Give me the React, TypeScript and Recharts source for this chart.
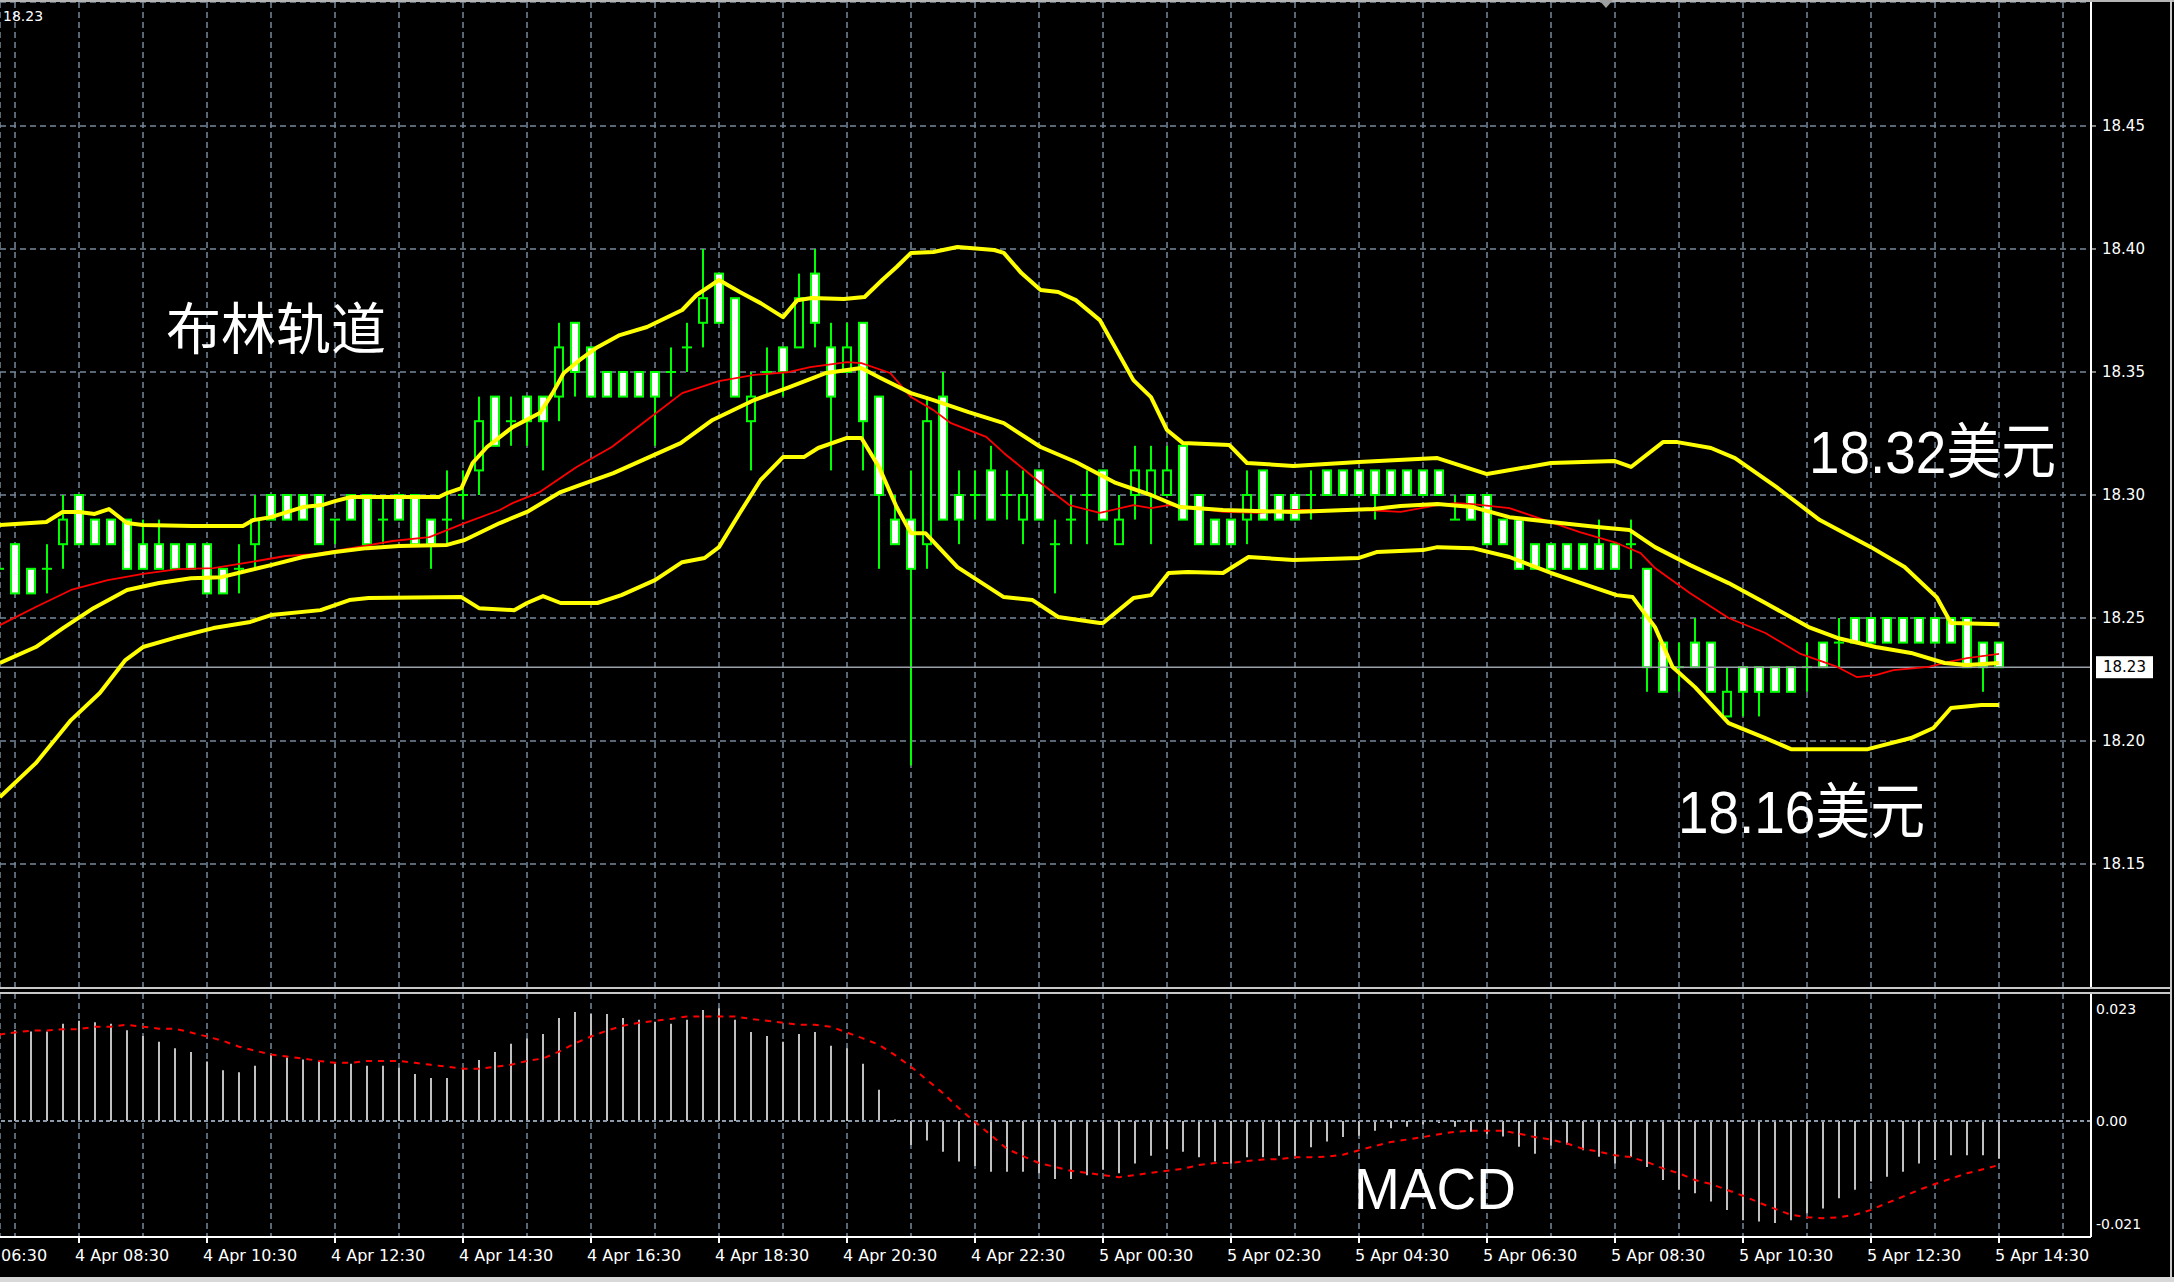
import React from 'react';
import { ComposedChart, Bar, Line, XAxis, YAxis, CartesianGrid, ReferenceLine } from 'recharts';

const GRID = '#778899';
const FONT = '"DejaVu Sans", sans-serif';
const BIG = '"Liberation Sans", "Noto Sans CJK SC", sans-serif';

// M15 candles, 4 Apr 07:15 .. 5 Apr 14:30 (index 0..125)
const opens = [
  18.27, 18.28, 18.27, 18.27, 18.28, 18.30, 18.29, 18.29, 18.29, 18.28,
  18.28, 18.28, 18.28, 18.28, 18.27, 18.27, 18.28, 18.30, 18.30, 18.30,
  18.30, 18.29, 18.30, 18.30, 18.29, 18.30, 18.30, 18.29, 18.29, 18.30,
  18.31, 18.34, 18.33, 18.34, 18.34, 18.34, 18.37, 18.36, 18.35, 18.35,
  18.35, 18.35, 18.35, 18.36, 18.37, 18.39, 18.38, 18.33, 18.35, 18.36,
  18.36, 18.39, 18.36, 18.35, 18.37, 18.34, 18.29, 18.29, 18.28, 18.34,
  18.30, 18.30, 18.31, 18.30, 18.29, 18.31, 18.28, 18.29, 18.30, 18.31,
  18.28, 18.30, 18.30, 18.30, 18.32, 18.30, 18.29, 18.29, 18.29, 18.31,
  18.30, 18.30, 18.30, 18.31, 18.31, 18.31, 18.31, 18.31, 18.31, 18.31,
  18.31, 18.29, 18.30, 18.30, 18.29, 18.29, 18.28, 18.28, 18.28, 18.28,
  18.28, 18.28, 18.28, 18.27, 18.24, 18.23, 18.24, 18.24, 18.21, 18.23,
  18.23, 18.23, 18.23, 18.23, 18.24, 18.24, 18.25, 18.25, 18.25, 18.25,
  18.25, 18.25, 18.25, 18.25, 18.24, 18.24,
];
const highs = [
  18.28, 18.28, 18.27, 18.28, 18.30, 18.30, 18.29, 18.29, 18.29, 18.29,
  18.29, 18.28, 18.28, 18.28, 18.27, 18.28, 18.30, 18.30, 18.30, 18.30,
  18.30, 18.29, 18.30, 18.30, 18.30, 18.30, 18.30, 18.29, 18.31, 18.31,
  18.34, 18.34, 18.34, 18.34, 18.34, 18.37, 18.37, 18.36, 18.35, 18.35,
  18.35, 18.35, 18.36, 18.37, 18.40, 18.39, 18.38, 18.35, 18.36, 18.36,
  18.39, 18.40, 18.37, 18.37, 18.37, 18.34, 18.30, 18.31, 18.34, 18.35,
  18.31, 18.31, 18.32, 18.31, 18.31, 18.31, 18.29, 18.30, 18.31, 18.31,
  18.30, 18.32, 18.32, 18.32, 18.32, 18.30, 18.29, 18.29, 18.31, 18.31,
  18.30, 18.30, 18.31, 18.31, 18.31, 18.31, 18.31, 18.31, 18.31, 18.31,
  18.31, 18.30, 18.30, 18.30, 18.29, 18.29, 18.28, 18.28, 18.28, 18.28,
  18.29, 18.28, 18.29, 18.27, 18.24, 18.24, 18.25, 18.24, 18.23, 18.23,
  18.23, 18.23, 18.23, 18.24, 18.24, 18.25, 18.25, 18.25, 18.25, 18.25,
  18.25, 18.25, 18.25, 18.25, 18.24, 18.24,
];
const lows = [
  18.26, 18.26, 18.26, 18.26, 18.27, 18.28, 18.28, 18.28, 18.27, 18.27,
  18.27, 18.27, 18.27, 18.26, 18.26, 18.26, 18.27, 18.29, 18.29, 18.29,
  18.28, 18.28, 18.29, 18.28, 18.28, 18.29, 18.28, 18.27, 18.28, 18.29,
  18.30, 18.32, 18.32, 18.32, 18.31, 18.33, 18.34, 18.34, 18.34, 18.34,
  18.34, 18.32, 18.34, 18.35, 18.36, 18.37, 18.34, 18.31, 18.34, 18.34,
  18.36, 18.36, 18.31, 18.35, 18.31, 18.27, 18.28, 18.19, 18.27, 18.29,
  18.28, 18.29, 18.29, 18.29, 18.28, 18.29, 18.26, 18.28, 18.28, 18.29,
  18.28, 18.29, 18.28, 18.30, 18.29, 18.28, 18.28, 18.28, 18.28, 18.29,
  18.29, 18.29, 18.29, 18.30, 18.30, 18.30, 18.29, 18.30, 18.30, 18.30,
  18.30, 18.29, 18.29, 18.28, 18.28, 18.27, 18.27, 18.27, 18.27, 18.27,
  18.27, 18.27, 18.27, 18.22, 18.22, 18.22, 18.23, 18.22, 18.21, 18.21,
  18.21, 18.22, 18.22, 18.22, 18.23, 18.23, 18.24, 18.24, 18.24, 18.24,
  18.24, 18.24, 18.24, 18.23, 18.22, 18.23,
];
const closes = [
  18.27, 18.26, 18.26, 18.27, 18.29, 18.28, 18.28, 18.28, 18.27, 18.27,
  18.27, 18.27, 18.27, 18.26, 18.26, 18.27, 18.29, 18.29, 18.29, 18.29,
  18.28, 18.29, 18.29, 18.28, 18.29, 18.29, 18.28, 18.28, 18.29, 18.30,
  18.33, 18.32, 18.33, 18.33, 18.33, 18.36, 18.35, 18.34, 18.34, 18.34,
  18.34, 18.34, 18.35, 18.36, 18.38, 18.37, 18.34, 18.34, 18.35, 18.35,
  18.38, 18.37, 18.34, 18.36, 18.33, 18.30, 18.28, 18.27, 18.33, 18.29,
  18.29, 18.30, 18.29, 18.30, 18.30, 18.29, 18.28, 18.29, 18.30, 18.29,
  18.29, 18.31, 18.31, 18.31, 18.29, 18.28, 18.28, 18.28, 18.30, 18.29,
  18.29, 18.29, 18.30, 18.30, 18.30, 18.30, 18.30, 18.30, 18.30, 18.30,
  18.30, 18.29, 18.29, 18.28, 18.28, 18.27, 18.27, 18.27, 18.27, 18.27,
  18.27, 18.27, 18.28, 18.23, 18.22, 18.23, 18.23, 18.22, 18.22, 18.22,
  18.22, 18.22, 18.22, 18.23, 18.23, 18.24, 18.24, 18.24, 18.24, 18.24,
  18.24, 18.24, 18.24, 18.23, 18.23, 18.23,
];

// Bollinger upper / middle / lower and the red moving average, read as [candle, price]
const bbUpper = [
  [0.06, 18.2878], [2.96, 18.289], [3.97, 18.2931], [4.99, 18.2931], [5.98, 18.2923], [6.87, 18.2943],
  [7.99, 18.2886], [8.99, 18.2878], [12.1, 18.2874], [15.24, 18.2874], [15.9, 18.2898], [17, 18.291],
  [19, 18.2951], [20.2, 18.2959], [21, 18.2975], [22, 18.2992], [27.5, 18.2992], [28, 18.3008],
  [28.9, 18.3028], [29.6, 18.313], [30.5, 18.3195], [32.1, 18.3276], [33.8, 18.3333], [34.6, 18.3414],
  [35.3, 18.3496], [36.3, 18.3549], [37.4, 18.3601], [38.8, 18.365], [40.5, 18.3683], [42.7, 18.3752],
  [43.6, 18.3813], [45, 18.3874], [46.3, 18.3825], [47.6, 18.378], [49, 18.3723], [49.9, 18.3792],
  [50.8, 18.3801], [52.8, 18.3797], [54.1, 18.3805], [55.2, 18.3874], [56.1, 18.3927], [57, 18.3984],
  [58.4, 18.3988], [59.9, 18.4008], [62.2, 18.3996], [62.8, 18.3984], [63.9, 18.3902], [65.1, 18.3833],
  [66.2, 18.3825], [67.3, 18.3792], [68.8, 18.3711], [70.9, 18.3467], [72, 18.3398], [73, 18.3264],
  [74, 18.3211], [76.9, 18.3203], [78, 18.313], [80.9, 18.3118], [85, 18.3134], [89.9, 18.315],
  [93, 18.3085], [97, 18.313], [101, 18.3138], [102, 18.3114], [104, 18.3215], [104.9, 18.3215],
  [107, 18.3191], [108.5, 18.315], [111.1, 18.3032], [113.8, 18.2898], [117, 18.2788], [119.1, 18.2707],
  [121.1, 18.2585], [122, 18.248], [125, 18.2475],
];
const bbMiddle = [
  [0.06, 18.2317], [2.3, 18.2382], [4, 18.2459], [5.9, 18.254], [8, 18.2614], [10, 18.2642],
  [12, 18.2662], [13.9, 18.2666], [15.2, 18.2687], [17, 18.2715], [19, 18.2748], [21, 18.2768],
  [23, 18.2784], [25, 18.2793], [28, 18.2797], [29.1, 18.2817], [31.3, 18.2886], [33, 18.2931],
  [35.1, 18.3012], [36.3, 18.304], [38.4, 18.3089], [40.5, 18.315], [42.6, 18.3211], [44.6, 18.3305],
  [47.2, 18.3386], [49.4, 18.3439], [51.7, 18.3496], [53, 18.3508], [53.9, 18.3516], [55, 18.3479],
  [57, 18.3414], [58.4, 18.3386], [60.6, 18.3337], [62.8, 18.3292], [65.1, 18.3195], [67.3, 18.3134],
  [69.8, 18.3049], [72, 18.3], [73.8, 18.2951], [76.5, 18.2939], [80.9, 18.2931], [85.9, 18.2943],
  [87.6, 18.2955], [89.9, 18.2963], [92.1, 18.2951], [94.4, 18.291], [97, 18.289], [99.9, 18.287],
  [101.9, 18.2858], [103.5, 18.2788], [105.7, 18.2715], [108.1, 18.2642], [110.4, 18.2561], [113.1, 18.2463],
  [114.9, 18.2419], [117.3, 18.2382], [119.5, 18.2358], [121.6, 18.2317], [123, 18.2309], [125, 18.2317],
];
const bbLower = [
  [0.06, 18.1772], [2.3, 18.191], [4.5, 18.2085], [6.3, 18.2195], [7.9, 18.2329], [9, 18.2382],
  [11.2, 18.2423], [13.4, 18.2459], [15.7, 18.2484], [17, 18.2512], [20.1, 18.2532], [21.9, 18.2573],
  [23.1, 18.2581], [28.9, 18.2585], [30, 18.254], [32.2, 18.2532], [33, 18.2561], [34, 18.2589],
  [35.1, 18.2561], [37.4, 18.2561], [38.9, 18.2593], [41, 18.2654], [42.7, 18.2727], [44.1, 18.2744],
  [45, 18.2788], [46.3, 18.2927], [47.6, 18.3061], [49, 18.3154], [50.3, 18.3154], [51.2, 18.3191],
  [53, 18.3232], [53.9, 18.3232], [55, 18.3114], [56.1, 18.2951], [57, 18.2845], [57.9, 18.2845],
  [59.9, 18.2707], [62.8, 18.2585], [64.6, 18.2573], [66.2, 18.2504], [68.8, 18.248], [69, 18.248],
  [70.9, 18.2581], [72, 18.2593], [73.1, 18.2683], [74.3, 18.2687], [76.5, 18.2683], [78.1, 18.2748],
  [80.9, 18.2736], [85, 18.2744], [86.1, 18.2768], [89, 18.2776], [89.9, 18.2788], [92.1, 18.2784],
  [94.4, 18.2748], [97, 18.2683], [101.1, 18.2593], [102.1, 18.2585], [103.5, 18.2463], [104.6, 18.2301],
  [106, 18.2219], [108.1, 18.2073], [110.4, 18.2012], [112, 18.1967], [116.8, 18.1967], [119.5, 18.2012],
  [120.9, 18.2053], [122, 18.2134], [123.9, 18.2146], [125, 18.2146],
];
const maRed = [
  [0.06, 18.2471], [2.3, 18.2545], [4.5, 18.2614], [6.8, 18.2654], [9, 18.2679], [11.2, 18.2699],
  [13.4, 18.2703], [15.7, 18.2727], [17.9, 18.2752], [19.7, 18.276], [22.4, 18.2788], [24.6, 18.2813],
  [26.9, 18.2829], [29.1, 18.2886], [31.3, 18.2939], [32.1, 18.2967], [33.8, 18.3012], [36.1, 18.3114],
  [38.3, 18.3195], [40.5, 18.3305], [42.7, 18.3414], [45, 18.3463], [47.2, 18.3488], [49.4, 18.35],
  [50.7, 18.352], [53, 18.354], [53.9, 18.3536], [55.7, 18.3496], [57, 18.3398], [58.4, 18.3345],
  [59.5, 18.3292], [61.7, 18.3236], [62.8, 18.3171], [65.1, 18.3049], [66.9, 18.2959], [68.8, 18.2927],
  [70.9, 18.2959], [72, 18.2947], [73.1, 18.2959], [74.3, 18.2951], [76.5, 18.2931], [78.7, 18.2927],
  [80.9, 18.2939], [85.4, 18.2939], [87.6, 18.2931], [89.9, 18.2959], [91, 18.2967], [92.1, 18.2963],
  [94.4, 18.2947], [96.6, 18.2898], [98.8, 18.2849], [101.1, 18.2805], [102.6, 18.2764], [103.5, 18.2703],
  [105.7, 18.2601], [108.1, 18.25], [110.4, 18.2439], [112.6, 18.2354], [114.9, 18.2301], [116.1, 18.226],
  [117.3, 18.2268], [118.4, 18.2288], [120.6, 18.2301], [121.8, 18.2321], [123, 18.2337], [125, 18.2354],
];

// MACD histogram and signal, one value per candle
const macdHist = [
  0.0186, 0.0186, 0.0183, 0.0183, 0.0199, 0.0205, 0.0202, 0.0199, 0.0186, 0.0174,
  0.0162, 0.0149, 0.0141, 0.0122, 0.0104, 0.0100, 0.0113, 0.0135, 0.0130, 0.0126,
  0.0122, 0.0117, 0.0117, 0.0113, 0.0113, 0.0109, 0.0096, 0.0088, 0.0088, 0.0108,
  0.0125, 0.0141, 0.0158, 0.0169, 0.0178, 0.0211, 0.0223, 0.0219, 0.0219, 0.0211,
  0.0207, 0.0203, 0.0199, 0.0207, 0.0227, 0.0231, 0.0207, 0.0182, 0.0174, 0.0162,
  0.0178, 0.0182, 0.0154, 0.0149, 0.0117, 0.0064, 0.0003, -0.0049, -0.0040, -0.0063,
  -0.0083, -0.0092, -0.0104, -0.0104, -0.0104, -0.0107, -0.0119, -0.0119, -0.0111, -0.0100,
  -0.0107, -0.0087, -0.0071, -0.0058, -0.0063, -0.0074, -0.0083, -0.0087, -0.0074, -0.0074,
  -0.0071, -0.0071, -0.0054, -0.0042, -0.0033, -0.0030, -0.0020, -0.0015, -0.0012, -0.0007,
  -0.0004, -0.0012, -0.0022, -0.0027, -0.0032, -0.0053, -0.0067, -0.0050, -0.0048, -0.0060,
  -0.0073, -0.0087, -0.0073, -0.0094, -0.0121, -0.0141, -0.0148, -0.0165, -0.0182, -0.0203,
  -0.0206, -0.0209, -0.0203, -0.0189, -0.0179, -0.0158, -0.0141, -0.0124, -0.0114, -0.0104,
  -0.0087, -0.0080, -0.0070, -0.0070, -0.0070, -0.0077,
];
const macdSignal = [
  0.0177, 0.0181, 0.0185, 0.0185, 0.0188, 0.0188, 0.0193, 0.0193, 0.0197, 0.0193,
  0.0189, 0.0189, 0.0181, 0.0173, 0.0164, 0.0152, 0.0144, 0.0136, 0.0132, 0.0128,
  0.0123, 0.0119, 0.0119, 0.0123, 0.0123, 0.0123, 0.0119, 0.0115, 0.0111, 0.0107,
  0.0107, 0.0111, 0.0115, 0.0123, 0.0128, 0.0142, 0.0159, 0.0173, 0.0185, 0.0195,
  0.0201, 0.0205, 0.0209, 0.0214, 0.0214, 0.0214, 0.0214, 0.0209, 0.0205, 0.0201,
  0.0197, 0.0197, 0.0193, 0.0181, 0.0169, 0.0156, 0.0135, 0.0111, 0.0084, 0.0057,
  0.0026, -0.0002, -0.0029, -0.0057, -0.0072, -0.0086, -0.0094, -0.0102, -0.0106, -0.0111,
  -0.0115, -0.0111, -0.0106, -0.0102, -0.0098, -0.0090, -0.0086, -0.0086, -0.0082, -0.0079,
  -0.0078, -0.0074, -0.0074, -0.0073, -0.0069, -0.0060, -0.0051, -0.0043, -0.0038, -0.0033,
  -0.0027, -0.0022, -0.0020, -0.0020, -0.0020, -0.0026, -0.0033, -0.0038, -0.0046, -0.0057,
  -0.0063, -0.0070, -0.0074, -0.0084, -0.0097, -0.0107, -0.0121, -0.0129, -0.0141, -0.0153,
  -0.0167, -0.0180, -0.0192, -0.0197, -0.0199, -0.0197, -0.0192, -0.0182, -0.0168, -0.0155,
  -0.0141, -0.0129, -0.0118, -0.0107, -0.0099, -0.0090,
];

const lastPrice = 18.23;
const priceTicks = [18.15, 18.2, 18.25, 18.3, 18.35, 18.4, 18.45];
const macdTicks = [-0.021, 0, 0.023];
const gridTicks = Array.from({ length: 33 }, (_, k) => 1 + 4 * k);
const timeTickIdx = [5, 13, 21, 29, 37, 45, 53, 61, 69, 77, 85, 93, 101, 109, 117, 125];
const timeLabels = [
  '4 Apr 08:30', '4 Apr 10:30', '4 Apr 12:30', '4 Apr 14:30', '4 Apr 16:30', '4 Apr 18:30',
  '4 Apr 20:30', '4 Apr 22:30', '5 Apr 00:30', '5 Apr 02:30', '5 Apr 04:30', '5 Apr 06:30',
  '5 Apr 08:30', '5 Apr 10:30', '5 Apr 12:30', '5 Apr 14:30',
];
const X_DOMAIN = [0.0625, 130.75];

const candles = opens.map((o, i) => ({
  i, o, h: highs[i], l: lows[i], c: closes[i], range: [lows[i], highs[i]],
}));
const macdData = macdHist.map((h, i) => ({ i, h, s: macdSignal[i] }));
const pts = (arr: number[][]) => arr.map(([i, p]) => ({ i, p }));

const Candle = (props: any) => {
  const { x, y, width, height, payload } = props;
  if (x == null || !payload) return null;
  const { o, h, l, c } = payload;
  const cx = x + width / 2;
  const span = h - l;
  const py = (v: number) => (span > 0 ? y + ((h - v) / span) * height : y);
  const top = py(Math.max(o, c));
  const bot = py(Math.min(o, c));
  return (
    <g>
      <line x1={cx} x2={cx} y1={y} y2={y + height} stroke="#00ff00" strokeWidth={2} />
      {o === c ? (
        <line x1={cx - 5} x2={cx + 5} y1={top} y2={top} stroke="#00ff00" strokeWidth={2} />
      ) : (
        <rect x={cx - 4} y={top} width={8} height={bot - top}
          fill={c > o ? '#000' : '#fff'} stroke="#00ff00" strokeWidth={2} />
      )}
    </g>
  );
};

const PriceTag = (props: any) => {
  const vb = props.viewBox;
  if (!vb) return null;
  const x = vb.x + vb.width + 5;
  return (
    <g>
      <rect x={x} y={vb.y - 11} width={57} height={22} fill="#fff" />
      <text x={x + 28.5} y={vb.y + 5} textAnchor="middle" fontSize={15} fontFamily={FONT} fill="#000">
        {lastPrice.toFixed(2)}
      </text>
    </g>
  );
};

const TimeTick = (props: any) => {
  const { x, y, payload } = props;
  const k = timeTickIdx.indexOf(payload.value);
  if (k < 0) return null;
  return (
    <g>
      <line x1={x} x2={x} y1={y} y2={y + 6} stroke="#fff" strokeWidth={2} />
      <text x={x - 4} y={y + 24} fill="#fff" fontSize={16} fontFamily={FONT}>{timeLabels[k]}</text>
    </g>
  );
};

const band = (data: number[][], color: string, w: number, key: string) => (
  <Line key={key} data={pts(data)} dataKey="p" type="linear" stroke={color} strokeWidth={w}
    dot={false} activeDot={false} isAnimationActive={false} strokeLinejoin="round" />
);

export default function App() {
  return (
    <div style={{ position: 'absolute', left: 0, top: 0, width: 2174, height: 1282, background: '#000', overflow: 'hidden' }}>
      <div style={{ position: 'absolute', left: 0, top: 0 }}>
        <ComposedChart width={2174} height={990} data={candles} margin={{ top: 2, right: 3, bottom: 2, left: 0 }}>
          <CartesianGrid stroke={GRID} strokeDasharray="6 4" strokeWidth={1.5} />
          <XAxis dataKey="i" type="number" domain={X_DOMAIN} ticks={gridTicks} allowDataOverflow hide />
          <YAxis orientation="right" type="number" domain={[18.0996, 18.5004]} allowDataOverflow
            ticks={priceTicks} interval={0} width={80} tickSize={5} tickMargin={6}
            axisLine={{ stroke: '#fff', strokeWidth: 2 }} tickLine={{ stroke: '#fff' }}
            tick={{ fill: '#fff', fontSize: 15, fontFamily: FONT }}
            tickFormatter={(v: number) => v.toFixed(2)} />
          <ReferenceLine y={lastPrice} stroke="#9aa0a8" strokeWidth={1.5} label={<PriceTag />} />
          <Bar dataKey="range" barSize={9} shape={Candle} isAnimationActive={false} />
          {band(maRed, '#ff0000', 1.8, 'red')}
          {band(bbUpper, '#ffff00', 4, 'up')}
          {band(bbMiddle, '#ffff00', 4, 'mid')}
          {band(bbLower, '#ffff00', 4, 'low')}
        </ComposedChart>
      </div>
      <div style={{ position: 'absolute', left: 0, top: 990 }}>
        <ComposedChart width={2174} height={292} data={macdData} margin={{ top: 3, right: 3, bottom: 5, left: 0 }}>
          <CartesianGrid stroke={GRID} strokeDasharray="6 4" strokeWidth={1.5} horizontal={false} />
          <XAxis dataKey="i" type="number" domain={X_DOMAIN} ticks={gridTicks} interval={0} allowDataOverflow
            height={40} tickSize={0} tickMargin={0} tickLine={false} tick={<TimeTick />}
            axisLine={{ stroke: '#fff', strokeWidth: 2 }} />
          <YAxis orientation="right" type="number" domain={[-0.02375, 0.0262]} allowDataOverflow
            ticks={macdTicks} interval={0} width={80} tickSize={0} tickMargin={5} tickLine={false}
            axisLine={{ stroke: '#fff', strokeWidth: 2 }}
            tick={{ fill: '#fff', fontSize: 14, fontFamily: FONT }}
            tickFormatter={(v: number) => (v === 0 ? '0.00' : v.toFixed(3))} />
          <ReferenceLine y={0} stroke="#8a9aaa" strokeDasharray="4 3" strokeWidth={2} />
          <Bar dataKey="h" barSize={2} fill="#c0c0c0" isAnimationActive={false} />
          <Line dataKey="s" type="linear" stroke="#ff0000" strokeWidth={2} strokeDasharray="6 6"
            dot={false} activeDot={false} isAnimationActive={false} />
        </ComposedChart>
      </div>

      {/* frame lines */}
      <div style={{ position: 'absolute', left: 0, top: 0, width: 2174, height: 2, background: '#b4b4b4' }} />
      <div style={{ position: 'absolute', left: 0, top: 987, width: 2172, height: 2, background: '#c8c8c8' }} />
      <div style={{ position: 'absolute', left: 0, top: 992, width: 2172, height: 2, background: '#c8c8c8' }} />
      <div style={{ position: 'absolute', left: 2170, top: 0, width: 2, height: 1280, background: '#c8c8c8' }} />
      <div style={{ position: 'absolute', left: 0, top: 1277, width: 2174, height: 5, background: '#d8d8d8' }} />

      <svg width={2174} height={1282} style={{ position: 'absolute', left: 0, top: 0, pointerEvents: 'none' }}>
        <polygon points="1599,0 1613,0 1606,8" fill="#a0a0a0" />
        <text x={3} y={21} fill="#fff" fontSize={14} fontFamily={FONT}>18.23</text>
        <text x={166} y={349} fill="#fff" fontSize={56} fontFamily='"Noto Sans CJK SC", sans-serif'
          textLength={220} lengthAdjust="spacingAndGlyphs">布林轨道</text>
        <text x={1809} y={473} fill="#fff" fontSize={60} fontFamily={BIG}
          textLength={247} lengthAdjust="spacingAndGlyphs">18.32美元</text>
        <text x={1678} y={833} fill="#fff" fontSize={60} fontFamily={BIG}
          textLength={247} lengthAdjust="spacingAndGlyphs">18.16美元</text>
        <text x={1354} y={1209} fill="#fff" fontSize={57} fontFamily={BIG}
          textLength={162} lengthAdjust="spacingAndGlyphs">MACD</text>
        <text x={1} y={1261} fill="#fff" fontSize={16} fontFamily={FONT}>06:30</text>
      </svg>
    </div>
  );
}
